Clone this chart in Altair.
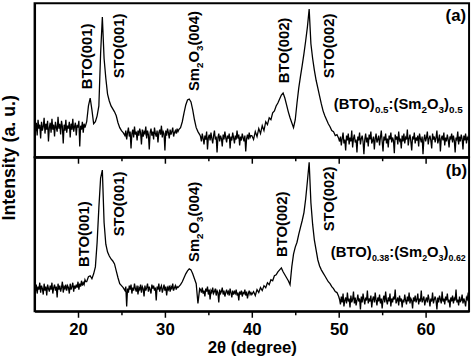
import altair as alt
import pandas as pd

FONT = "Liberation Sans"

# ---------------- panel (a): (BTO)0.5:(Sm2O3)0.5 ----------------
# each segment: start 2theta, sampling step, intensities (a.u.)
a_seg1 = [32, 26, 35, 22, 38, 29, 33, 19, 36, 27, 31, 40, 24, 34, 28, 37, 16, 30, 35, 25,
          39, 28, 33, 21, 36, 30, 26, 41, 29, 34, 23, 37, 31, 14, 33, 27, 38, 25, 32, 29,
          36, 20, 34, 28, 39, 26, 31, 35, 22, 33, 30, 37, 11, 32, 28, 36, 25, 34, 30, 33]
a_seg2 = [36, 52, 60, 48, 34, 36, 42, 52, 105, 142, 100, 80, 64, 57, 52, 49, 46, 42, 35, 30, 27, 25]
a_seg3 = [22, 27, 18, 25, 30, 21, 26, 9, 24, 28, 20, 31, 23, 26, 17, 27, 22, 29, 25, 13,
          28, 21, 26, 24, 31, 19, 27, 23, 8, 25, 29, 22, 26, 18, 30, 24, 21, 27, 15, 25,
          28, 23, 32, 20, 26, 24, 7, 27, 22, 29, 25, 19, 28, 23, 26, 30, 21, 25, 27, 24,
          29, 26]
a_seg4 = [28, 30, 36, 45, 53, 58, 59, 56, 48, 38, 30, 26, 23]
a_seg5 = [21, 16, 24, 19, 13, 22, 18, 26, 8, 20, 23, 17, 25, 19, 14, 22, 27, 18, 21, 5,
          20, 24, 16, 22, 19, 11, 23, 18, 26, 20, 15, 22, 19, 24, 9, 21, 17, 25, 20, 14,
          22, 18, 27, 19, 23, 12, 21, 17, 24, 20, 16, 22, 6, 19, 23, 18, 25, 20, 22]
a_seg6 = [22, 18, 26, 21, 29, 24, 32, 27, 36, 33, 40, 38, 45, 47, 52, 55, 59, 63, 65, 60,
          53, 46, 40, 35, 30, 38, 55, 70, 82, 93, 105, 118, 132, 150, 115, 100, 88, 78, 70, 62,
          54, 47, 42, 38, 34, 31, 27, 26, 22, 23, 19]
a_seg7 = [16, 21, 12, 19, 25, 14, 18, 7, 22, 17, 24, 13, 20, 16, 27, 10, 19, 23, 15, 18,
          5, 21, 17, 25, 13, 19, 22, 16, 3, 18, 24, 15, 20, 11, 23, 18, 26, 14, 17, 21,
          8, 19, 24, 15, 18, 22, 12, 20, 27, 16, 6, 21, 17, 24, 14, 19, 10, 22, 18, 25,
          15, 20, 17, 4, 23, 18, 21, 13, 26, 17, 19, 9, 22, 16, 24, 14, 20, 18, 28, 12,
          19, 23, 16, 7, 21, 18, 25, 14, 20, 17, 22, 11, 24, 19, 15, 21, 3, 18, 23, 16,
          20, 26, 13, 19, 22, 17, 9, 24, 18, 21, 15, 20, 27, 14, 18, 23, 6, 19, 22, 17,
          25, 12, 20, 16, 23, 18, 10, 21, 19, 24, 15, 22, 17, 5, 20, 18, 26, 13, 21, 16,
          23, 19, 8, 22, 17, 24, 14, 20, 18, 21]
a_segments = [(15.0, 0.1, a_seg1), (21.0, 0.2, a_seg2), (25.4, 0.1, a_seg3),
              (31.6, 0.2, a_seg4), (34.1, 0.1, a_seg5), (40.0, 0.2, a_seg6),
              (50.1, 0.1, a_seg7)]

# ---------------- panel (b): (BTO)0.38:(Sm2O3)0.62 ----------------
b_seg1 = [24, 20, 27, 18, 25, 22, 29, 19, 26, 23, 17, 28, 21, 25, 16, 27, 23, 20, 26, 22,
          29, 18, 24, 27, 21, 25, 14, 28, 22, 26, 20, 24, 30, 19, 25, 23, 27, 21, 26, 24,
          18, 28, 22, 25, 29, 20, 26, 23, 27, 24, 30, 22, 28, 25, 31, 26, 29, 27, 32, 30]
b_seg2 = [30, 35, 36, 33, 38, 45, 70, 105, 135, 143, 90, 68, 60, 56, 53, 51, 48, 41, 34, 28, 26, 24]
b_seg3 = [21, 25, 5, 23, 19, 26, 22, 27, 18, 24, 21, 28, 23, 20, 26, 17, 24, 22, 27, 19,
          25, 23, 15, 26, 21, 24, 28, 20, 25, 22, 18, 27, 23, 26, 21, 24, 11, 25, 22, 28,
          20, 24, 26, 19, 23, 27, 21, 25, 16, 24, 22, 26, 20, 25, 23, 28, 21, 24, 26, 22,
          25, 24]
b_seg4 = [25, 27, 30, 34, 38, 41, 43, 42, 38, 33, 28, 8, 23]
b_seg5 = [22, 19, 24, 18, 21, 15, 23, 20, 25, 17, 22, 12, 21, 19, 24, 18, 20, 23, 16, 21,
          19, 9, 22, 18, 20, 24, 17, 21, 15, 19, 22, 18, 20, 16, 23, 19, 14, 21, 17, 20,
          18, 22, 16, 19, 11, 20, 17, 21, 15, 19, 18, 22, 16, 20, 13, 18, 21, 17, 19]
b_seg6 = [17, 20, 16, 22, 19, 24, 21, 26, 24, 29, 27, 32, 31, 36, 37, 40, 42, 44, 40, 37,
          34, 31, 27, 45, 58, 65, 70, 78, 85, 92, 100, 114, 132, 151, 110, 88, 72, 62, 52, 46,
          42, 39, 36, 33, 30, 28, 25, 23, 20, 19, 15]
b_seg7 = [12, 7, 15, 9, 18, 5, 11, 14, 8, 19, 10, 13, 4, 16, 9, 12, 20, 8, 14, 6,
          11, 17, 10, 13, 2, 15, 9, 18, 12, 7, 14, 11, 21, 8, 13, 10, 16, 4, 12, 15,
          9, 19, 11, 6, 14, 10, 17, 8, 13, 3, 12, 16, 9, 20, 11, 7, 14, 10, 18, 5,
          13, 9, 15, 12, 22, 8, 11, 14, 6, 16, 10, 13, 4, 12, 9, 17, 11, 7, 15, 10,
          19, 8, 13, 11, 3, 14, 10, 16, 9, 12, 18, 7, 13, 10, 21, 9, 12, 15, 6, 11,
          14, 9, 17, 12, 5, 13, 10, 19, 8, 12, 15, 11, 2, 14, 9, 16, 12, 8, 20, 10,
          13, 7, 15, 11, 18, 9, 12, 4, 14, 10, 16, 8, 13, 11, 22, 9, 12, 6, 15, 10,
          11, 17, 8, 13, 10, 5, 14, 12, 19, 9]
b_segments = [(15.0, 0.1, b_seg1), (21.0, 0.2, b_seg2), (25.4, 0.1, b_seg3),
              (31.6, 0.2, b_seg4), (34.1, 0.1, b_seg5), (40.0, 0.2, b_seg6),
              (50.1, 0.1, b_seg7)]

# peak labels: (text, 2theta at label centre, intensity at label foot)
a_peak_labels = [("BTO(001)", 21.02, 69), ("STO(001)", 24.77, 80),
                 ("BTO(002)", 43.75, 75), ("STO(002)", 48.86, 80)]
b_peak_labels = [("BTO(001)", 20.68, 45), ("STO(001)", 24.77, 76),
                 ("BTO(002)", 43.52, 55), ("STO(002)", 48.86, 81)]
a_sm_label = (33.30, 67)
b_sm_label = (33.30, 50)
a_comp_label = (49.43, 49, "0.5", "0.5")
b_comp_label = (49.09, 55, "0.38", "0.62")
a_tag = ("(a)", 64.66, 138)
b_tag = ("(b)", 64.77, 137)

tick_values = [20, 25, 30, 35, 40, 45, 50, 55, 60]

# ---------------- helpers ----------------
W = {'(': 333, ')': 333, 'B': 722, 'T': 611, 'O': 778, 'S': 667, 'm': 889, '.': 278, ':': 333}
for d in "0123456789":
    W[d] = 556


def tw(s, size):
    return sum(W[c] for c in s) * size / 1000.0


def build(segments):
    xs, ys = [], []
    for s, step, seg in segments:
        for k, v in enumerate(seg):
            xs.append(round(s + step * k, 2))
            ys.append(v)
    return pd.DataFrame({"theta": xs, "I": ys})


xscale = alt.Scale(domain=[15, 65], nice=False)
yscale = alt.Scale(domain=[0, 156], nice=False)


def make_axes(top):
    xaxis = alt.Axis(
        values=tick_values, grid=False, title=None if top else "2θ (degree)",
        labels=not top, labelFontSize=17, labelFontWeight="bold", labelFont=FONT,
        labelExpr="datum.value % 10 === 0 ? datum.label : ''",
        labelPadding=4, titleFontSize=17, titleFontWeight="bold", titleFont=FONT,
        titlePadding=3, labelColor="black", titleColor="black",
        tickSize={"condition": {"test": "datum.value % 10 === 0", "value": 6}, "value": 3.5},
    )
    if top:
        yaxis = alt.Axis(title="Intensity (a. u.)", labels=False, ticks=False, grid=False,
                         titleY=156, titleX=-16, titleAlign="center", titleFontSize=18,
                         titleFontWeight="bold", titleFont=FONT, titleColor="black")
    else:
        yaxis = alt.Axis(title=None, labels=False, ticks=False, grid=False)
    return xaxis, yaxis


def panel(segments, peak_labels, sm_label, comp_label, tag, top, subsize):
    xaxis, yaxis = make_axes(top)

    def enc(chart):
        return chart.encode(
            x=alt.X("theta:Q", scale=xscale, axis=xaxis, title=None if top else "2θ (degree)"),
            y=alt.Y("I:Q", scale=yscale, axis=yaxis, title="Intensity (a. u.)" if top else None),
        )

    def composite(parts, x, y, angle, base_dy, drop):
        layers = []
        adv = 0.0
        d = pd.DataFrame({"theta": [x], "I": [y]})
        for text, size, sub in parts:
            m = alt.Chart(d).mark_text(
                text=text, fontSize=size, font=FONT, fontWeight="bold", color="black",
                angle=angle, align="left", baseline="alphabetic",
                dx=adv, dy=base_dy + (drop if sub else 0),
            )
            layers.append(enc(m))
            adv += tw(text, size)
        return layers

    df = build(segments)
    line = enc(alt.Chart(df).mark_line(color="black", strokeWidth=1.3))
    pl = pd.DataFrame({"label": [p[0] for p in peak_labels],
                       "theta": [p[1] for p in peak_labels],
                       "I": [p[2] for p in peak_labels]})
    plain = enc(alt.Chart(pl).mark_text(
        fontSize=15, font=FONT, fontWeight="bold", color="black", angle=270,
        align="left", baseline="alphabetic", dy=5)).encode(text="label:N")
    sm = composite([("Sm", 15, False), ("2", 10, True), ("O", 15, False),
                    ("3", 10, True), ("(004)", 15, False)],
                   sm_label[0], sm_label[1], 270, 5, 5)
    cx, cy, s1, s2 = comp_label
    comp = composite([("(BTO)", 15, False), (s1, subsize, True), (":(Sm", 15, False),
                      ("2", subsize, True), ("O", 15, False), ("3", subsize, True),
                      (")", 15, False), (s2, subsize, True)],
                     cx, cy, 0, 0, 4)
    tg = pd.DataFrame({"label": [tag[0]], "theta": [tag[1]], "I": [tag[2]]})
    tagm = enc(alt.Chart(tg).mark_text(
        fontSize=17, font=FONT, fontWeight="bold", color="black",
        align="right", baseline="alphabetic")).encode(text="label:N")
    return alt.layer(line, plain, *sm, *comp, tagm).properties(width=440, height=156)


pa = panel(a_segments, a_peak_labels, a_sm_label, a_comp_label, a_tag, True, 10)
pb = panel(b_segments, b_peak_labels, b_sm_label, b_comp_label, b_tag, False, 9)

chart = alt.vconcat(pa, pb, spacing=0, bounds="flush").properties(
    padding={"left": 0, "top": 0, "right": 1, "bottom": 0},
    background="white",
).configure_view(
    stroke="black", strokeWidth=2
).configure_axis(
    domainColor="black", domainWidth=2, tickColor="black", tickWidth=1.5,
)

chart.save("out.html", embed_options={"renderer": "svg", "actions": False})
